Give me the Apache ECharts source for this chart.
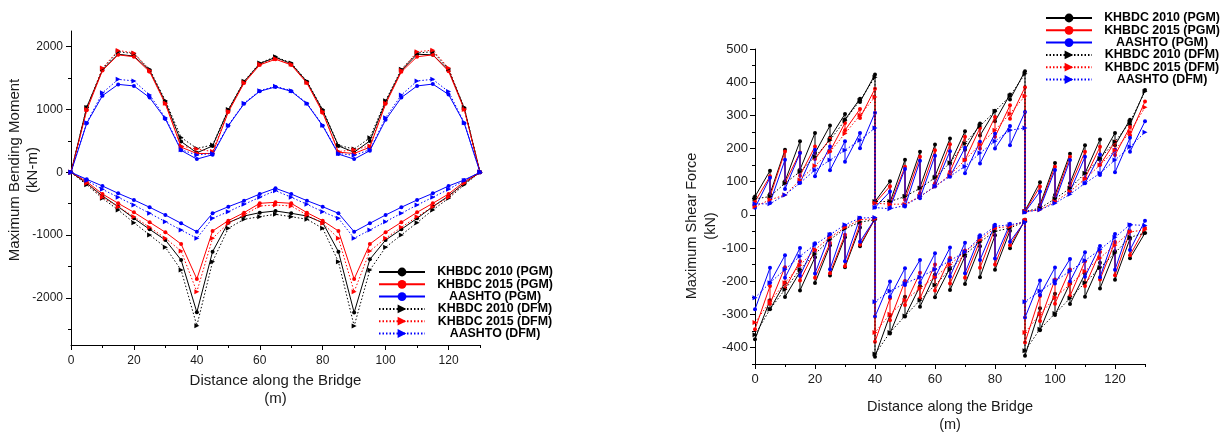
<!DOCTYPE html>
<html>
<head>
<meta charset="utf-8">
<script src="https://cdn.jsdelivr.net/npm/echarts@6/dist/echarts.min.js"></script>
<style>
html,body{margin:0;padding:0;background:#fff;}
#c{width:1227px;height:434px;}
</style>
</head>
<body>
<div id="c"></div>
<script>
// ---------- shared ----------
const stations = [0,5,10,15,20,25,30,35,40,45,50,55,60,65,70,75,80,85,90,95,100,105,110,115,120,125,130];
const supports = [40, 90];
const seriesNames = ['KHBDC 2010 (PGM)','KHBDC 2015 (PGM)','AASHTO (PGM)','KHBDC 2010 (DFM)','KHBDC 2015 (DFM)','AASHTO (DFM)'];
const xTickLabels = [0,20,40,60,80,100,120];
const xMinorTicks = [10,30,50,70,90,110,130];
const momentTickLabels = [-2000,-1000,0,1000,2000];
const momentMinorTicks = [-2500,-1500,-500,500,1500];
const shearTickLabels = [-400,-300,-200,-100,0,100,200,300,400,500];
const shearMinorTicks = [-450,-350,-250,-150,-50,50,150,250,350,450];

// ---------- bending moment (kN-m) ----------
const momPosK10PGM = [0,1035,1630,1880,1850,1620,1120,490,310,420,990,1440,1730,1830,1730,1440,985,420,320,500,1120,1620,1880,1870,1630,1020,0];
const momPosK15PGM = [0,990,1620,1870,1840,1600,1090,400,300,300,960,1420,1710,1800,1710,1420,950,320,300,400,1090,1600,1840,1870,1610,1000,0];
const momPosAASPGM = [0,780,1220,1400,1375,1190,850,350,210,280,740,1090,1290,1360,1290,1090,740,290,210,345,835,1190,1375,1405,1240,780,0];
const momPosK10DFM = [0,1030,1650,1920,1890,1640,1140,555,380,435,1000,1450,1740,1840,1740,1450,1000,430,370,550,1140,1640,1900,1920,1650,1030,0];
const momPosK15DFM = [0,1000,1660,1940,1900,1620,1100,420,370,330,970,1430,1720,1810,1720,1430,970,330,360,420,1100,1620,1920,1945,1660,1000,0];
const momPosAASDFM = [0,790,1265,1480,1455,1230,870,360,275,300,750,1100,1300,1370,1300,1100,750,300,270,360,870,1230,1455,1480,1285,790,0];

const momNegK10PGM = [0,-175,-377,-547,-733,-908,-1078,-1396,-2229,-1264,-802,-696,-643,-616,-653,-696,-802,-1264,-2234,-1386,-1078,-908,-733,-547,-377,-175,0];
const momNegK15PGM = [0,-149,-346,-494,-637,-796,-955,-1142,-1699,-935,-770,-643,-494,-478,-494,-643,-770,-935,-1699,-1142,-955,-796,-637,-494,-346,-149,0];
const momNegAASPGM = [0,-111,-218,-335,-441,-557,-680,-812,-946,-653,-548,-452,-346,-255,-346,-452,-548,-653,-946,-812,-680,-557,-441,-335,-218,-122,0];
const momNegK10DFM = [0,-199,-414,-600,-802,-998,-1194,-1556,-2443,-1424,-892,-748,-707,-669,-707,-748,-892,-1424,-2447,-1556,-1194,-998,-802,-600,-414,-199,0];
const momNegK15DFM = [0,-175,-398,-547,-707,-876,-1051,-1253,-1901,-1051,-812,-680,-536,-521,-536,-680,-812,-1051,-1901,-1253,-1051,-876,-707,-547,-398,-175,0];
const momNegAASDFM = [0,-130,-271,-398,-521,-653,-786,-919,-1051,-733,-627,-510,-398,-292,-398,-510,-627,-733,-1051,-919,-786,-653,-521,-398,-271,-130,0];

// ---------- shear force (kN) ----------
// PGM: value reached at a station (arriving) and value leaving the station
const shPosK10PGMIn  = [null,133,196,222,247,269,304,350,423,101,166,190,212,230,252,275,314,363,433,98,156,184,210,227,247,287,376];
const shPosK10PGMOut = [55,63,101,136,186,232,287,340,40,38,58,83,116,154,196,239,282,348,12,30,60,95,125,166,210,272,null];
const shPosK15PGMIn  = [null,116,191,188,206,229,277,319,380,86,145,175,195,213,235,262,295,330,385,85,145,175,190,205,220,265,342];
const shPosK15PGMOut = [40,55,96,118,168,192,255,292,35,30,45,65,95,130,165,200,235,290,10,25,50,85,110,150,180,240,null];
const shPosAASPGMIn  = [null,112,166,186,196,206,222,247,308,70,138,163,178,192,202,220,245,268,310,70,135,165,175,182,196,232,282];
const shPosAASPGMOut = [21,36,78,96,116,134,160,201,22,22,25,50,85,115,125,155,200,210,8,20,40,70,95,120,128,190,null];

const shNegK10PGMIn  = [null,-258,-205,-172,-128,-92,-68,-38,-12,-302,-247,-215,-180,-160,-125,-95,-62,-48,-15,-282,-238,-207,-178,-145,-110,-72,-55];
const shNegK10PGMOut = [-375,-285,-248,-228,-206,-183,-158,-95,-428,-358,-307,-277,-249,-227,-209,-188,-166,-101,-425,-348,-302,-269,-247,-222,-196,-131,null];
const shNegK15PGMIn  = [null,-215,-158,-140,-108,-85,-60,-28,-12,-252,-200,-175,-150,-130,-108,-78,-42,-35,-15,-245,-195,-165,-140,-112,-82,-50,-40];
const shNegK15PGMOut = [-345,-268,-222,-198,-190,-176,-155,-90,-383,-318,-272,-252,-228,-207,-190,-160,-150,-92,-385,-320,-268,-245,-215,-195,-182,-122,null];
const shNegAASPGMIn  = [null,-160,-122,-100,-86,-58,-32,-9,-12,-201,-161,-136,-116,-99,-84,-62,-30,-27,-20,-198,-159,-133,-113,-94,-58,-30,-18];
const shNegAASPGMOut = [-285,-205,-190,-184,-177,-164,-140,-81,-307,-247,-212,-205,-188,-186,-176,-136,-132,-81,-310,-242,-207,-201,-187,-188,-166,-106,null];

// DFM: one value per station, plus the value just after each interior support
const shPosK10DFM = [48,55,95,130,175,225,285,345,415,40,55,80,112,157,215,268,312,358,425,20,48,80,125,170,220,280,372];
const shPosK10DFMAfterSupport = [40,10];
const shPosK15DFM = [25,45,60,105,148,190,245,300,355,32,32,55,85,120,165,212,255,305,358,15,40,70,108,150,195,250,324];
const shPosK15DFMAfterSupport = [35,10];
const shPosAASDFM = [33,33,60,96,135,165,195,225,262,18,28,55,86,116,146,186,222,255,262,15,35,62,95,125,165,205,249];
const shPosAASDFMAfterSupport = [22,8];

const shNegK10DFM = [-362,-285,-225,-165,-118,-75,-42,-22,-15,-355,-305,-258,-212,-165,-120,-82,-50,-40,-20,-345,-298,-252,-205,-160,-115,-68,-55];
const shNegK10DFMAfterSupport = [-420,-410];
const shNegK15DFM = [-325,-262,-205,-152,-105,-68,-38,-15,-12,-300,-258,-222,-188,-150,-112,-75,-40,-35,-18,-300,-250,-210,-170,-130,-92,-52,-45];
const shNegK15DFMAfterSupport = [-355,-355];
const shNegAASDFM = [-250,-205,-165,-125,-90,-60,-30,-10,-8,-230,-207,-188,-165,-138,-112,-68,-35,-30,-22,-230,-200,-170,-138,-105,-68,-30,-32];
const shNegAASDFMAfterSupport = [-262,-262];

// ---------- builders ----------
function pairs(vals){ return stations.map((x,i)=>[x, vals[i]]); }
function sawtooth(inV, outV){
  const d = [];
  stations.forEach((x,i)=>{
    if (inV[i] != null) d.push([x, inV[i]]);
    if (outV[i] != null && outV[i] !== inV[i]) d.push([x, outV[i]]);
  });
  return d;
}
function withJumps(vals, after){
  const d = [];
  stations.forEach((x,i)=>{
    d.push([x, vals[i]]);
    const k = supports.indexOf(x);
    if (k >= 0) d.push([x, after[k]]);
  });
  return d;
}

const colors = ['#000000','#ff0000','#0000ff','#000000','#ff0000','#0000ff'];
function styleFor(idx){
  const dfm = idx >= 3;
  return {
    type: 'line',
    name: seriesNames[idx],
    symbol: dfm ? 'triangle' : 'circle',
    symbolRotate: dfm ? -90 : 0,
    symbolSize: dfm ? 5 : 4,
    showSymbol: true,
    color: colors[idx],
    lineStyle: {color: colors[idx], width: 1, type: dfm ? [1.5, 2] : 'solid'},
    itemStyle: {color: colors[idx]},
    emphasis: {disabled: true},
    animation: false,
    z: 2 + idx
  };
}
function mk(idx, data, xi, yi){
  return Object.assign(styleFor(idx), {data, xAxisIndex: xi, yAxisIndex: yi});
}

const series = [
  mk(0, pairs(momPosK10PGM), 0, 0), mk(1, pairs(momPosK15PGM), 0, 0), mk(2, pairs(momPosAASPGM), 0, 0),
  mk(3, pairs(momPosK10DFM), 0, 0), mk(4, pairs(momPosK15DFM), 0, 0), mk(5, pairs(momPosAASDFM), 0, 0),
  mk(0, pairs(momNegK10PGM), 0, 0), mk(1, pairs(momNegK15PGM), 0, 0), mk(2, pairs(momNegAASPGM), 0, 0),
  mk(3, pairs(momNegK10DFM), 0, 0), mk(4, pairs(momNegK15DFM), 0, 0), mk(5, pairs(momNegAASDFM), 0, 0),

  mk(0, sawtooth(shPosK10PGMIn, shPosK10PGMOut), 2, 2), mk(1, sawtooth(shPosK15PGMIn, shPosK15PGMOut), 2, 2),
  mk(2, sawtooth(shPosAASPGMIn, shPosAASPGMOut), 2, 2),
  mk(3, withJumps(shPosK10DFM, shPosK10DFMAfterSupport), 2, 2), mk(4, withJumps(shPosK15DFM, shPosK15DFMAfterSupport), 2, 2),
  mk(5, withJumps(shPosAASDFM, shPosAASDFMAfterSupport), 2, 2),
  mk(0, sawtooth(shNegK10PGMIn, shNegK10PGMOut), 2, 2), mk(1, sawtooth(shNegK15PGMIn, shNegK15PGMOut), 2, 2),
  mk(2, sawtooth(shNegAASPGMIn, shNegAASPGMOut), 2, 2),
  mk(3, withJumps(shNegK10DFM, shNegK10DFMAfterSupport), 2, 2), mk(4, withJumps(shNegK15DFM, shNegK15DFMAfterSupport), 2, 2),
  mk(5, withJumps(shNegAASDFM, shNegAASDFMAfterSupport), 2, 2)
];

const FONT = '"Liberation Sans", Arial, sans-serif';
const TXT = '#1a1a1a';
function mainAxis(gridIndex, position, min, max, labels, fontSize, margin){
  return {
    type: 'value', gridIndex, position, min, max,
    axisLine: {show: true, onZero: false, lineStyle: {color: '#000', width: 1}},
    axisTick: {show: true, inside: false, length: 5, customValues: labels, lineStyle: {color: '#000', width: 1}},
    axisLabel: {show: true, customValues: labels, fontSize, fontFamily: FONT, color: TXT, margin, formatter: v => String(v)},
    splitLine: {show: false}, minorTick: {show: false}
  };
}
function minorAxis(gridIndex, position, min, max, ticks){
  return {
    type: 'value', gridIndex, position, min, max,
    axisLine: {show: false, onZero: false},
    axisTick: {show: true, inside: false, length: 3, customValues: ticks, lineStyle: {color: '#000', width: 1}},
    axisLabel: {show: false},
    splitLine: {show: false}
  };
}

function legendFor(left, top){
  return {
    orient: 'vertical', left, top,
    itemWidth: 46, itemHeight: 11, itemGap: 0.3,
    data: seriesNames,
    selectedMode: false,
    lineStyle: {width: 2},
    formatter: n => '{a|' + n + '}',
    textStyle: {
      rich: {a: {width: 130, align: 'center', fontSize: 12.4, fontWeight: 'bold', fontFamily: FONT, color: '#000', lineHeight: 13}}
    }
  };
}

const option = {
  backgroundColor: '#ffffff',
  animation: false,
  grid: [
    {left: 71, top: 31, width: 409, height: 314, containLabel: false},
    {left: 755, top: 49, width: 390, height: 315, containLabel: false}
  ],
  xAxis: [
    mainAxis(0, 'bottom', 0, 130, xTickLabels, 12, 10),
    minorAxis(0, 'bottom', 0, 130, xMinorTicks),
    mainAxis(1, 'bottom', 0, 130, xTickLabels, 13, 9),
    minorAxis(1, 'bottom', 0, 130, xMinorTicks)
  ],
  yAxis: [
    mainAxis(0, 'left', -2750, 2250, momentTickLabels, 12, 8),
    minorAxis(0, 'left', -2750, 2250, momentMinorTicks),
    mainAxis(1, 'left', -450, 500, shearTickLabels, 13, 7),
    minorAxis(1, 'left', -450, 500, shearMinorTicks)
  ],
  legend: [legendFor(373, 261), legendFor(1040, 7)],
  graphic: [
    {type: 'text', x: 24, y: 170, rotation: Math.PI/2,
     style: {text: 'Maximum Bending Moment\n(kN-m)', fontSize: 15, fontFamily: FONT, fill: TXT, align: 'center', verticalAlign: 'middle', lineHeight: 18}},
    {type: 'text', x: 275.5, y: 390,
     style: {text: 'Distance along the Bridge\n(m)', fontSize: 15, fontFamily: FONT, fill: TXT, align: 'center', verticalAlign: 'middle', lineHeight: 18}},
    {type: 'text', x: 701, y: 226, rotation: Math.PI/2,
     style: {text: 'Maximum Shear Force\n(kN)', fontSize: 14.5, fontFamily: FONT, fill: TXT, align: 'center', verticalAlign: 'middle', lineHeight: 19}},
    {type: 'text', x: 950, y: 416,
     style: {text: 'Distance along the Bridge\n(m)', fontSize: 14.5, fontFamily: FONT, fill: TXT, align: 'center', verticalAlign: 'middle', lineHeight: 18}}
  ],
  series
};

const chart = echarts.init(document.getElementById('c'), null, {renderer: 'canvas'});
chart.setOption(option);
</script>
</body>
</html>
